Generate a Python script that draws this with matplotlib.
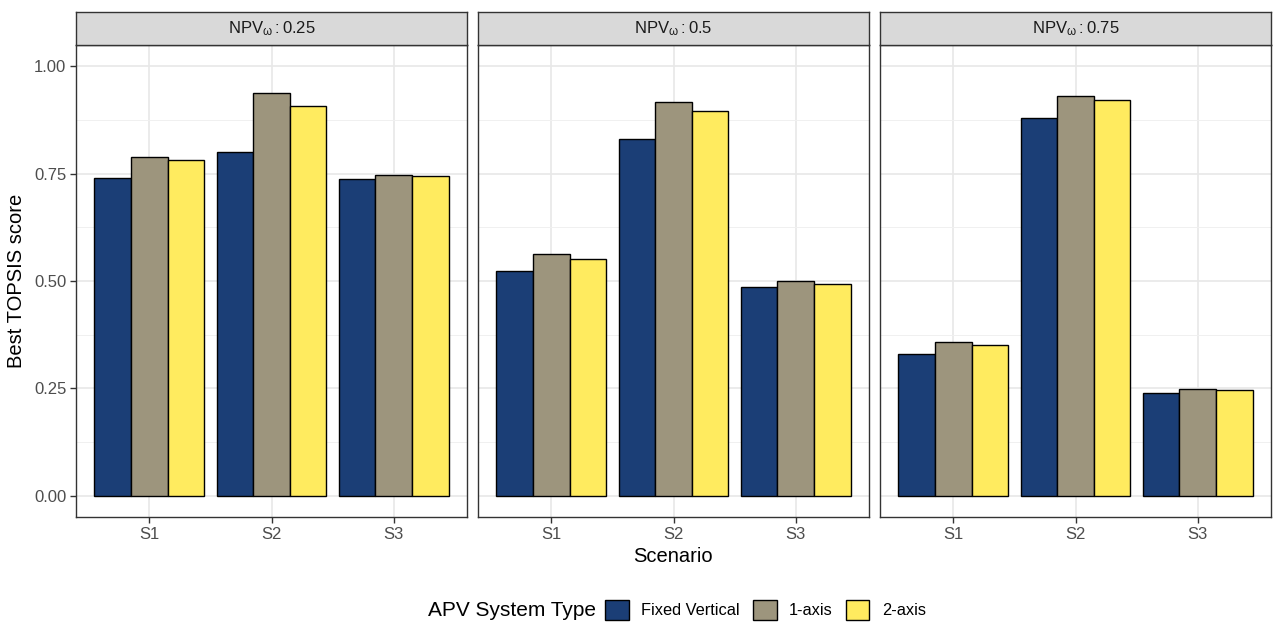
import matplotlib
matplotlib.use('Agg')
import matplotlib.pyplot as plt
from matplotlib.patches import Patch
import numpy as np

plt.rcParams['font.family'] = ['Liberation Sans', 'DejaVu Sans']
plt.rcParams['mathtext.fontset'] = 'custom'
plt.rcParams['mathtext.rm'] = 'Liberation Sans'
plt.rcParams['mathtext.it'] = 'Liberation Sans'

## data: best TOPSIS score per scenario, NPV weight and APV system type
scenarios = ['S1', 'S2', 'S3']
npv_weights = ['0.25', '0.5', '0.75']
system_types = ['Fixed Vertical', '1-axis', '2-axis']

fixed_vertical = [[0.739, 0.800, 0.737],
                  [0.524, 0.832, 0.487],
                  [0.329, 0.881, 0.240]]
one_axis = [[0.790, 0.939, 0.748],
            [0.562, 0.916, 0.499],
            [0.357, 0.930, 0.249]]
two_axis = [[0.781, 0.907, 0.744],
            [0.552, 0.897, 0.494],
            [0.352, 0.921, 0.245]]

colors = ['#1b3e76', '#9d957d', '#ffeb5f']

W, H = 1274, 623
fig = plt.figure(figsize=(W / 100, H / 100), dpi=100)

def fx(px):
    return px / W

def fy(py):
    return 1 - py / H

panel_left = [76, 478, 880]
panel_w = 391
top, bottom, strip_top = 45, 517, 12

series = [fixed_vertical, one_axis, two_axis]
x = np.arange(1, len(scenarios) + 1)
bw = 0.3

for i, w in enumerate(npv_weights):
    ax = fig.add_axes([fx(panel_left[i]), fy(bottom), fx(panel_w), (bottom - top) / H])
    for j, s in enumerate(series):
        ax.bar(x + (j - 1) * bw, s[i], width=bw, color=colors[j],
               edgecolor='black', linewidth=1.0, zorder=3)
    ax.set_xlim(0.4, 3.6)
    ax.set_ylim(-0.05, 1.05)
    ax.set_xticks(x)
    ax.set_xticklabels(scenarios)
    ax.set_yticks([0, 0.25, 0.5, 0.75, 1.0])
    ax.set_yticks([0.125, 0.375, 0.625, 0.875], minor=True)
    ax.grid(True, which='major', color='#e8e8e8', linewidth=1.2, zorder=0)
    ax.grid(True, which='minor', axis='y', color='#f0f0f0', linewidth=0.7, zorder=0)
    ax.tick_params(axis='both', which='major', length=4, width=1, color='#333333',
                   labelsize=12, labelcolor='#4d4d4d', pad=3)
    ax.tick_params(axis='both', which='minor', length=0)
    if i == 0:
        ax.set_yticklabels(['0.00', '0.25', '0.50', '0.75', '1.00'])
    else:
        ax.tick_params(axis='y', which='major', length=0, labelleft=False)
    for sp in ax.spines.values():
        sp.set_color('#333333')
        sp.set_linewidth(1.0)
    ax.set_axisbelow(True)

    # facet strip
    st = fig.add_axes([fx(panel_left[i]), fy(top), fx(panel_w), (top - strip_top) / H])
    st.set_facecolor('#d9d9d9')
    st.set_xticks([])
    st.set_yticks([])
    for sp in st.spines.values():
        sp.set_color('#333333')
        sp.set_linewidth(1.0)
    st.text(0.5, 0.5, r'$\mathrm{NPV}_{\omega}:\mathrm{' + w + '}$', ha='center', va='center',
            fontsize=12, color='#1a1a1a', transform=st.transAxes)

fig.text(fx(17), fy(281), 'Best TOPSIS score', rotation=90, ha='center', va='center',
         fontsize=14.5, color='black')
fig.text(fx(673), fy(556), 'Scenario', ha='center', va='center', fontsize=14.5, color='black')

## legend along the bottom
fig.text(fx(596), fy(610), 'APV System Type', ha='right', va='center', fontsize=15)
handles = [Patch(facecolor=c, edgecolor='black', linewidth=1.0) for c in colors]
fig.legend(handles, system_types, loc='center left', bbox_to_anchor=(fx(605), fy(610)),
           ncol=3, frameon=False, fontsize=11.8, handlelength=1.45, handleheight=1.45,
           handletextpad=0.75, columnspacing=0.8, borderpad=0, borderaxespad=0)

fig.savefig('out.png', dpi=100, facecolor='white')
